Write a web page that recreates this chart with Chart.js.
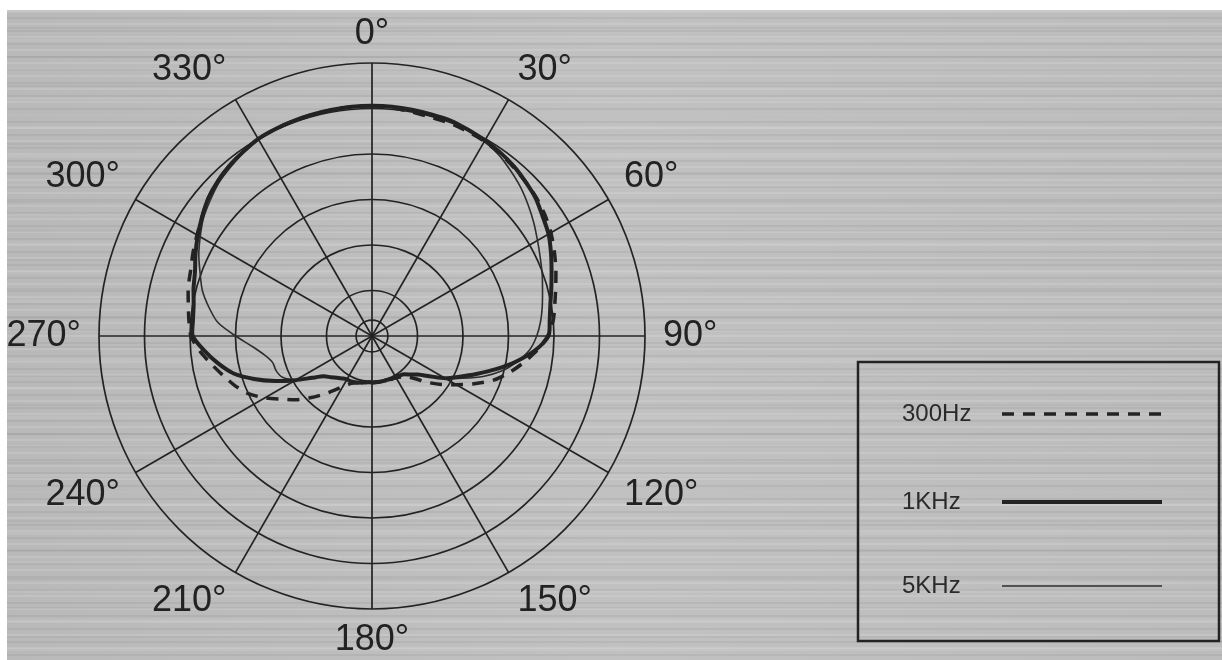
<!DOCTYPE html>
<html>
<head>
<meta charset="utf-8">
<script src="https://cdn.jsdelivr.net/npm/chart.js@4.4.1/dist/chart.umd.min.js"></script>
<style>
  html, body { margin: 0; padding: 0; background: #fff; }
  body { width: 1222px; height: 660px; overflow: hidden; position: relative; }
  #bg {
    position: absolute; left: 7px; top: 10px; right: 0; bottom: 0;
    background-color: #bdbdbd;
    background-image:
      repeating-linear-gradient(180deg, rgba(255,255,255,0.12) 0 2px, rgba(0,0,0,0) 2px 7px, rgba(0,0,0,0.05) 7px 9px, rgba(0,0,0,0) 9px 13px),
      repeating-linear-gradient(180deg, rgba(255,255,255,0.08) 0 3px, rgba(0,0,0,0) 3px 17px, rgba(0,0,0,0.04) 17px 19px, rgba(0,0,0,0) 19px 29px),
      linear-gradient(90deg, #b9b9b9, #c1c1c1 50%, #bcbcbc);
  }
  #wrap { position: absolute; left: -60px; top: 0; width: 1282px; height: 660px; }
</style>
</head>
<body>
<div id="bg"></div>
<div id="wrap"><canvas id="chart"></canvas></div>
<script>
// polar response, dB relative, every 5 degrees (clockwise from front)
const angles = [0, 5, 10, 15, 20, 25, 30, 35, 40, 45, 50, 55, 60, 65, 70, 75, 80, 85,
  90, 95, 100, 105, 110, 115, 120, 125, 130, 135, 140, 145, 150, 155, 160, 165, 170, 175,
  180, 185, 190, 195, 200, 205, 210, 215, 220, 225, 230, 235, 240, 245, 250, 255, 260, 265,
  270, 275, 280, 285, 290, 295, 300, 305, 310, 315, 320, 325, 330, 335, 340, 345, 350, 355];

const hz300 = [-4.7, -4.8, -5.0, -5.1, -5.1, -5.2, -5.3, -5.5, -5.8, -6.1, -6.4, -6.8, -7.3, -7.9, -8.5, -9.1, -9.6, -10.0,
  -10.7, -11.8, -13.1, -14.4, -15.8, -17.6, -19.3, -20.7, -22.1, -23.4, -24.2, -24.5, -24.7, -24.8, -24.9, -24.9, -24.9, -24.9,
  -24.9, -24.9, -24.8, -24.7, -24.5, -24.2, -23.6, -22.7, -21.6, -20.4, -19.1, -17.9, -16.4, -15.0, -14.0, -13.1, -12.1, -11.0,
  -10.1, -9.8, -9.5, -9.1, -8.8, -8.3, -7.8, -7.2, -6.5, -6.0, -5.6, -5.3, -5.0, -4.9, -4.85, -4.8, -4.75, -4.7];

const khz1 = [-4.7, -4.7, -4.75, -4.8, -4.8, -5.0, -5.2, -5.4, -5.7, -6.1, -6.5, -7.1, -7.6, -8.3, -9.0, -9.6, -10.1, -10.4,
  -10.6, -12.0, -13.9, -15.9, -17.8, -19.4, -20.7, -22.3, -23.4, -24.0, -24.5, -24.7, -24.8, -24.8, -24.9, -24.9, -24.9, -24.9,
  -24.9, -24.9, -24.8, -24.7, -24.6, -24.5, -24.5, -24.3, -24.0, -23.6, -23.1, -22.0, -20.3, -18.3, -16.2, -14.2, -12.8, -11.5,
  -10.3, -10.25, -10.1, -9.7, -9.3, -8.6, -7.9, -7.2, -6.5, -6.0, -5.6, -5.3, -5.0, -4.9, -4.85, -4.8, -4.75, -4.7];

const khz5 = [-4.7, -4.7, -4.75, -4.8, -4.85, -5.0, -5.3, -5.7, -6.3, -6.9, -7.6, -8.3, -9.0, -9.6, -10.1, -10.6, -11.0, -11.4,
  -11.9, -12.6, -13.8, -15.2, -17.0, -19.0, -20.7, -22.3, -23.4, -24.0, -24.5, -24.7, -24.8, -24.8, -24.9, -24.9, -24.9, -24.9,
  -24.9, -24.9, -24.8, -24.7, -24.6, -24.5, -24.5, -24.3, -24.0, -23.6, -23.1, -22.0, -20.4, -19.2, -18.8, -18.7, -18.0, -16.8,
  -15.0, -13.0, -11.8, -10.7, -9.9, -9.0, -8.2, -7.4, -6.8, -6.2, -5.8, -5.4, -5.1, -4.9, -4.85, -4.8, -4.75, -4.7];

const seriesNames = ["300Hz", "1KHz", "5KHz"];
const ringMin = -30;
const ringMax = 0;
const ringStep = 5;
const innerRing = -28.25;

const ink = "#232323";
const labelFont = "'Liberation Sans Narrow', 'Liberation Sans', Arial, sans-serif";

const legendBox = {
  id: "legendBox",
  afterDraw(chart) {
    const ctx = chart.ctx;
    const ox = chart.width - 1222;
    const rows = [414, 502, 586];
    ctx.save();
    ctx.strokeStyle = ink;
    ctx.lineWidth = 2.5;
    ctx.strokeRect(ox + 858, 362, 361, 279);
    ctx.font = "24px 'Liberation Sans', Arial, sans-serif";
    ctx.fillStyle = "#2a2a2a";
    ctx.textBaseline = "middle";
    chart.data.datasets.forEach((ds, i) => {
      const y = rows[i];
      ctx.fillText(ds.label, ox + 902, y);
      ctx.beginPath();
      ctx.setLineDash(ds.borderDash || []);
      ctx.lineWidth = ds.borderWidth;
      ctx.strokeStyle = ds.borderColor;
      ctx.moveTo(ox + 1002, y);
      ctx.lineTo(ox + 1162, y);
      ctx.stroke();
    });
    ctx.restore();
  }
};

new Chart(document.getElementById("chart"), {
  type: "radar",
  data: {
    labels: angles,
    datasets: [
      { label: seriesNames[0], data: hz300, borderColor: ink, borderWidth: 3.5, borderDash: [12, 9], fill: false },
      { label: seriesNames[1], data: khz1, borderColor: ink, borderWidth: 4, fill: false },
      { label: seriesNames[2], data: khz5, borderColor: "#2e2e2e", borderWidth: 1.6, fill: false },
    ],
  },
  options: {
    responsive: true,
    maintainAspectRatio: false,
    animation: false,
    layout: { padding: { left: 0, right: 417, top: 19, bottom: 5 } },
    elements: {
      point: { radius: 0, hoverRadius: 0 },
      line: { tension: 0.25, backgroundColor: "rgba(0,0,0,0)" },
    },
    plugins: { legend: { display: false }, tooltip: { enabled: false } },
    scales: {
      r: {
        min: ringMin,
        max: ringMax,
        ticks: { stepSize: ringStep, display: false },
        afterBuildTicks: (scale) => { scale.ticks.push({ value: innerRing }); },
        grid: { circular: true, color: ink, lineWidth: 1.7 },
        angleLines: {
          color: ink,
          lineWidth: (c) => (c.index % 6 === 0 ? 1.7 : 0),
        },
        pointLabels: {
          padding: (c) => (c.index === 0 ? 15 : 18),
          color: "#222",
          font: { family: labelFont, size: 36, lineHeight: 0.75 },
          callback: (v) => (v % 30 === 0 ? v + "°" : ""),
        },
      },
    },
  },
  plugins: [legendBox],
});
</script>
</body>
</html>
